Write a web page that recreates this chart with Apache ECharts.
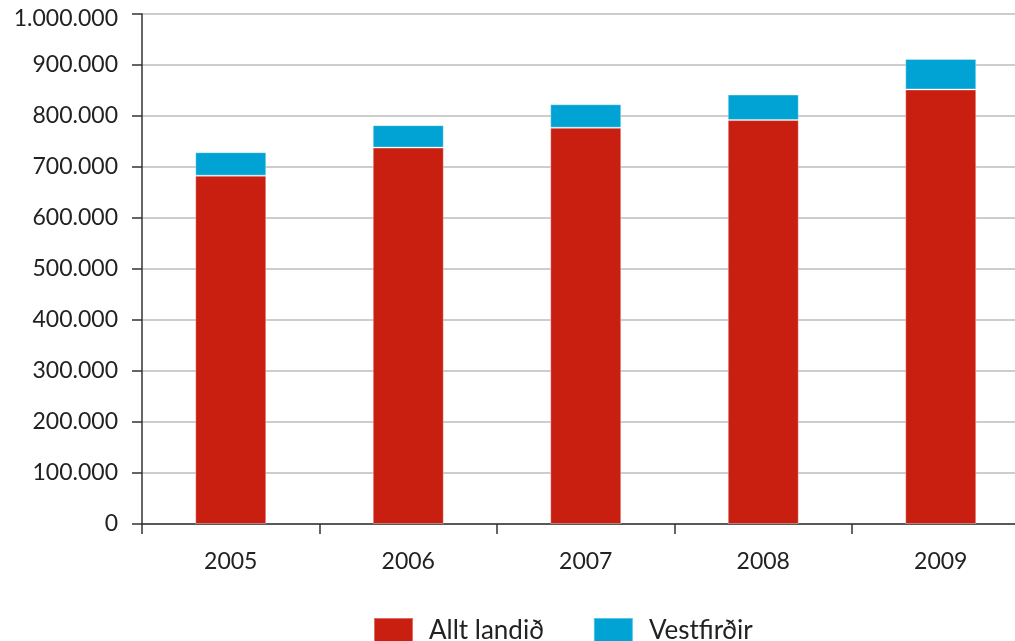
<!DOCTYPE html>
<html>
<head>
<meta charset="utf-8">
<script src="https://cdn.jsdelivr.net/npm/echarts@6/dist/echarts.min.js"></script>
<style>
  html, body { margin: 0; padding: 0; background: #fff; overflow: hidden; }
  #chart { width: 1030px; height: 641px; }
</style>
</head>
<body>
<div id="chart"></div>
<script>
const years = ['2005', '2006', '2007', '2008', '2009'];
const alltLandid = [683000, 738000, 777000, 792000, 852000];
const vestfirdir = [46000, 44000, 46000, 50000, 60000];

const fmt = v => String(v).replace(/\B(?=(\d{3})+(?!\d))/g, '.');
const font = 'Lato, "Noto Sans", sans-serif';

// the plot runs past the right edge of the window, like the source picture
const chart = echarts.init(document.getElementById('chart'));
chart.setOption({
  backgroundColor: '#fff',
  animation: false,
  textStyle: { fontFamily: font },
  grid: { left: 142, top: 14, height: 510, width: 887.5 },
  legend: {
    top: 612,
    left: 368,
    itemWidth: 39,
    itemHeight: 25,
    itemGap: 49,
    icon: 'rect',
    textStyle: { fontSize: 26, color: '#222', fontFamily: font, padding: [0, 0, 0, 11] },
    data: ['Allt landið', 'Vestfirðir'],
  },
  xAxis: {
    type: 'category',
    data: years,
    axisLine: { lineStyle: { color: '#333', width: 1.5 } },
    axisTick: { show: true, length: 10, lineStyle: { color: '#333', width: 1.5 } },
    axisLabel: { color: '#222', fontSize: 23, margin: 26 },
  },
  yAxis: {
    type: 'value',
    min: 0, max: 1000000, interval: 100000,
    axisLine: { show: true, lineStyle: { color: '#333', width: 1.5 } },
    axisTick: { show: true, length: 10, lineStyle: { color: '#333', width: 1.5 } },
    splitLine: { lineStyle: { color: '#bdbdbd', width: 1.5 } },
    axisLabel: {
      color: '#222', fontSize: 23, margin: 24,
      // top label sits a little lower in the original
      formatter: v => v === 1000000 ? '{top|' + fmt(v) + '}' : fmt(v),
      rich: { top: { fontSize: 23, color: '#222', fontFamily: font, padding: [10, 0, 0, 0] } },
    },
  },
  series: [
    {
      name: 'Allt landið', type: 'bar', stack: 'total', data: alltLandid,
      barWidth: 71,
      itemStyle: { color: '#c81f10', borderColor: 'rgba(255,255,255,0.35)', borderWidth: 1 },
    },
    {
      name: 'Vestfirðir', type: 'bar', stack: 'total', data: vestfirdir,
      barWidth: 71,
      itemStyle: { color: '#00a3d3', borderColor: 'rgba(255,255,255,0.35)', borderWidth: 1 },
    },
  ],
});
</script>
</body>
</html>
